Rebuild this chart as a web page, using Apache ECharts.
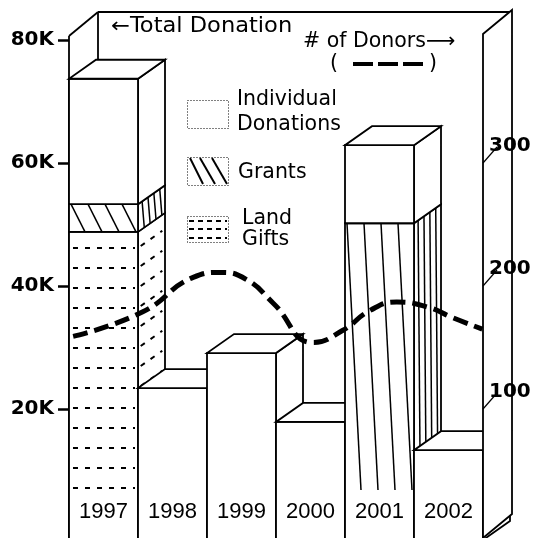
<!DOCTYPE html>
<html><head><meta charset="utf-8">
<script src="https://cdn.jsdelivr.net/npm/echarts@6/dist/echarts.min.js"></script>
<style>html,body{margin:0;padding:0;background:#fff}#c{width:535px;height:538px}</style>
</head><body><div id="c"></div>
<script>
// ---- data ----
const years = ['1997', '1998', '1999', '2000', '2001', '2002'];
const landGifts = [48800, 0, 0, 0, 0, 0];
const grants = [4500, 0, 0, 0, 50200, 0];
const individual = [20400, 23400, 29100, 17900, 12700, 13300];
const donorYear = [1996.56, 1997.57, 1998.30, 1998.69, 1999.08, 1999.46, 2000.04, 2000.47, 2000.86, 2001.25, 2001.69, 2002.07, 2002.49];
const donorCount = [159, 179, 207, 211, 205, 186, 154, 164, 180, 187, 183, 174, 165];
const donationTicks = [20000, 40000, 60000, 80000];
const donorTicks = [100, 200, 300];
const seriesNames = ['Individual\nDonations', 'Grants', 'Land\nGifts'];

// ---- styling ----
const DX = 27, DY = -19;      // bar depth
const FDX = 29, FDY = -24;    // frame depth
const FONT = '"DejaVu Sans"';
const faceStyle = { fill: '#fff', stroke: '#000', lineWidth: 1.8 };
const hatchStyle = { stroke: '#000', lineWidth: 1.5 };
const dashStyle = { stroke: '#000', lineWidth: 2, lineDash: [5, 7] };

function line(x1, y1, x2, y2, style, z2) {
  return { type: 'line', z2: z2, shape: { x1, y1, x2, y2 }, style: Object.assign({}, style) };
}

function renderBar(params, api) {
  const i = api.value(0);
  const vals = [api.value(1), api.value(2), api.value(3)];
  const kinds = ['land', 'grants', 'indiv'];
  const bw = api.size([1, 0])[0];
  const cx = api.coord([i, 0])[0];
  const L = cx - bw / 2, R = cx + bw / 2;
  const cs = params.coordSys;
  const base = cs.y + cs.height;
  const floorY = api.getHeight() + 2;
  const patBottom = base - 42;
  const z = i * 10;
  const ch = [];
  let cum = 0;
  const segs = [];
  for (let k = 0; k < 3; k++) {
    if (vals[k] > 0) {
      const y0 = cum === 0 ? floorY : api.coord([i, cum])[1];
      cum += vals[k];
      const y1 = api.coord([i, cum])[1];
      segs.push({ kind: kinds[k], top: y1, bot: y0 });
    }
  }
  segs.forEach(s => {
    ch.push({ type: 'polygon', z2: z, shape: { points: [[R, s.top], [R + DX, s.top + DY], [R + DX, s.bot + DY], [R, s.bot]] }, style: Object.assign({}, faceStyle) });
    const pb = Math.min(s.bot, patBottom);
    if (s.kind === 'grants') {
      const n = 4;
      for (let k = 0; k < n; k++) {
        const t1 = (k + 0.7) / (n + 0.6), t2 = Math.min(0.97, t1 + 0.08);
        ch.push(line(R + t1 * DX, s.top + t1 * DY, R + t2 * DX, pb + t2 * DY, hatchStyle, z + 1));
      }
    } else if (s.kind === 'land') {
      for (let y = s.top + 16; y < pb; y += 20) {
        ch.push(line(R + 0.1 * DX, y + 0.1 * DY, R + 0.9 * DX, y + 0.9 * DY, dashStyle, z + 1));
      }
    }
    ch.push({ type: 'rect', z2: z + 2, shape: { x: L, y: s.top, width: bw, height: s.bot - s.top }, style: Object.assign({}, faceStyle) });
    if (s.kind === 'grants') {
      const sp = (bw - 18) / 3;
      for (let k = 0; k < 4; k++) {
        const x1 = L + 2 + k * sp;
        ch.push(line(x1, s.top, x1 + 14, pb, hatchStyle, z + 3));
      }
    } else if (s.kind === 'land') {
      for (let y = s.top + 16; y < pb; y += 20) {
        ch.push(line(L + 4, y, R - 3, y, dashStyle, z + 3));
      }
    }
  });
  const t = segs[segs.length - 1].top;
  ch.push({ type: 'polygon', z2: z + 4, shape: { points: [[L, t], [R, t], [R + DX, t + DY], [L + DX, t + DY]] }, style: Object.assign({}, faceStyle) });
  return { type: 'group', children: ch };
}

function renderFrameBack(params, api) {
  const cs = params.coordSys;
  const L = cs.x, R = cs.x + cs.width, top = cs.y - 4, floorY = api.getHeight();
  const st = { stroke: '#000', lineWidth: 1.8 };
  return { type: 'group', children: [
    line(L, top, L, floorY, st),
    line(L, top, L + FDX, top + FDY, st),
    line(L + FDX, top + FDY, L + FDX, floorY + FDY, st),
    line(L + FDX, top + FDY, R + FDX, top + FDY, st)
  ] };
}

function renderFrameRight(params, api) {
  const cs = params.coordSys;
  const R = cs.x + cs.width, top = cs.y - 6, floorY = api.getHeight();
  return { type: 'polygon', shape: { points: [[R, top], [R + FDX, top + FDY], [R + FDX, floorY + FDY], [R, floorY]] },
    style: { fill: '#fff', stroke: '#000', lineWidth: 1.8 } };
}

function renderDonorTick(params, api) {
  const p = api.coord([api.value(0), api.value(1)]);
  return line(p[0], p[1], p[0] + 14, p[1] - 16, { stroke: '#000', lineWidth: 1.2 });
}

// ---- legend / title graphics built from names ----
const legendTop = [100, 157, 216];
const legendGraphics = [];
seriesNames.forEach((name, k) => {
  const y = legendTop[k];
  const h = k === 2 ? 26 : 28;
  legendGraphics.push({ type: 'rect', left: 187, top: y, shape: { width: 41, height: h }, style: { fill: '#fff', stroke: '#000', lineWidth: 1, lineDash: [1, 2] } });
  if (k === 1) {
    [[190, 203], [200, 215], [212, 227]].forEach(p => legendGraphics.push({ type: 'line', shape: { x1: p[0], y1: y + 1, x2: p[1], y2: y + h - 1 }, style: { stroke: '#000', lineWidth: 2 } }));
  }
  if (k === 2) {
    [5, 13, 22].forEach(d => legendGraphics.push({ type: 'line', shape: { x1: 189, y1: y + d, x2: 227, y2: y + d }, style: { stroke: '#000', lineWidth: 2, lineDash: [5, 4] } }));
  }
});
legendGraphics.push(
  { type: 'text', x: 237, y: 112, style: { text: seriesNames[0], font: '20.5px ' + FONT, lineHeight: 25, fill: '#000', verticalAlign: 'middle' } },
  { type: 'text', x: 238, y: 173, style: { text: seriesNames[1], font: '20.5px ' + FONT, fill: '#000', verticalAlign: 'middle' } },
  { type: 'text', x: 242, y: 229, style: { text: seriesNames[2], font: '20.5px ' + FONT, lineHeight: 21.5, fill: '#000', verticalAlign: 'middle' } },
  { type: 'text', x: 111, y: 27, scaleX: 1.1, style: { text: '\u2190Total Donation', font: '20.5px ' + FONT, fill: '#000', verticalAlign: 'middle' } },
  { type: 'text', x: 303, y: 42, style: { text: '# of Donors\u27F6', font: '20.5px ' + FONT, fill: '#000', verticalAlign: 'middle' } },
  { type: 'text', x: 330, y: 64, style: { text: '(', font: '20.5px ' + FONT, fill: '#000', verticalAlign: 'middle' } },
  { type: 'text', x: 429, y: 64, style: { text: ')', font: '20.5px ' + FONT, fill: '#000', verticalAlign: 'middle' } },
  { type: 'line', shape: { x1: 353, y1: 64, x2: 423, y2: 64 }, style: { stroke: '#000', lineWidth: 4, lineDash: [20, 5] } }
);

const chart = echarts.init(document.getElementById('c'), null, { renderer: 'canvas' });
chart.setOption({
  animation: false,
  backgroundColor: '#fff',
  grid: { left: 69, right: 52, top: 40, bottom: 6, containLabel: false },
  xAxis: [
    { type: 'category', data: years, z: 10, axisLine: { show: false }, axisTick: { show: false },
      axisLabel: { inside: true, margin: 9, color: '#000', fontFamily: '"Liberation Sans"', fontSize: 22, verticalAlign: 'bottom' } },
    { type: 'value', min: 1996.5, max: 2002.5, show: false }
  ],
  yAxis: [
    { type: 'value', min: 0, max: 80000, interval: 20000, splitLine: { show: false },
      axisLine: { show: false },
      axisTick: { show: true, length: 11, customValues: donationTicks, lineStyle: { color: '#000', width: 2.5 } },
      axisLabel: { customValues: donationTicks, margin: 15, color: '#000', fontFamily: FONT, fontWeight: 'bold', fontSize: 20,
        formatter: v => (v / 1000) + 'K' } },
    { type: 'value', position: 'right', min: 0, max: 400, interval: 100, splitLine: { show: false },
      axisLine: { show: false }, axisTick: { show: false }, z: 10,
      axisLabel: { customValues: donorTicks, margin: 6, color: '#000', fontFamily: FONT, fontWeight: 'bold', fontSize: 20,
        verticalAlign: 'bottom', lineHeight: 34 } }
  ],
  graphic: legendGraphics,
  series: [
    { type: 'custom', name: 'frame', xAxisIndex: 1, yAxisIndex: 0, z: 1, silent: true, clip: false,
      renderItem: renderFrameBack, data: [[1999.5, 0]] },
    { type: 'custom', name: 'Donations', xAxisIndex: 0, yAxisIndex: 0, z: 2, clip: false,
      renderItem: renderBar,
      data: years.map((y, i) => [i, landGifts[i], grants[i], individual[i]]) },
    { type: 'custom', name: 'wall', xAxisIndex: 1, yAxisIndex: 0, z: 4, silent: true, clip: false,
      renderItem: renderFrameRight, data: [[1999.5, 0]] },
    { type: 'line', name: '# of Donors', xAxisIndex: 1, yAxisIndex: 1, z: 6, smooth: 0.5, symbol: 'none', clip: false,
      lineStyle: { color: '#000', width: 5, type: [15, 7], cap: 'butt' },
      data: donorYear.map((x, k) => [x, donorCount[k]]) },
    { type: 'custom', name: 'donorTicks', xAxisIndex: 1, yAxisIndex: 1, z: 7, clip: false,
      renderItem: renderDonorTick, data: donorTicks.map(v => [2002.5, v]) }
  ]
});
</script>
</body></html>
